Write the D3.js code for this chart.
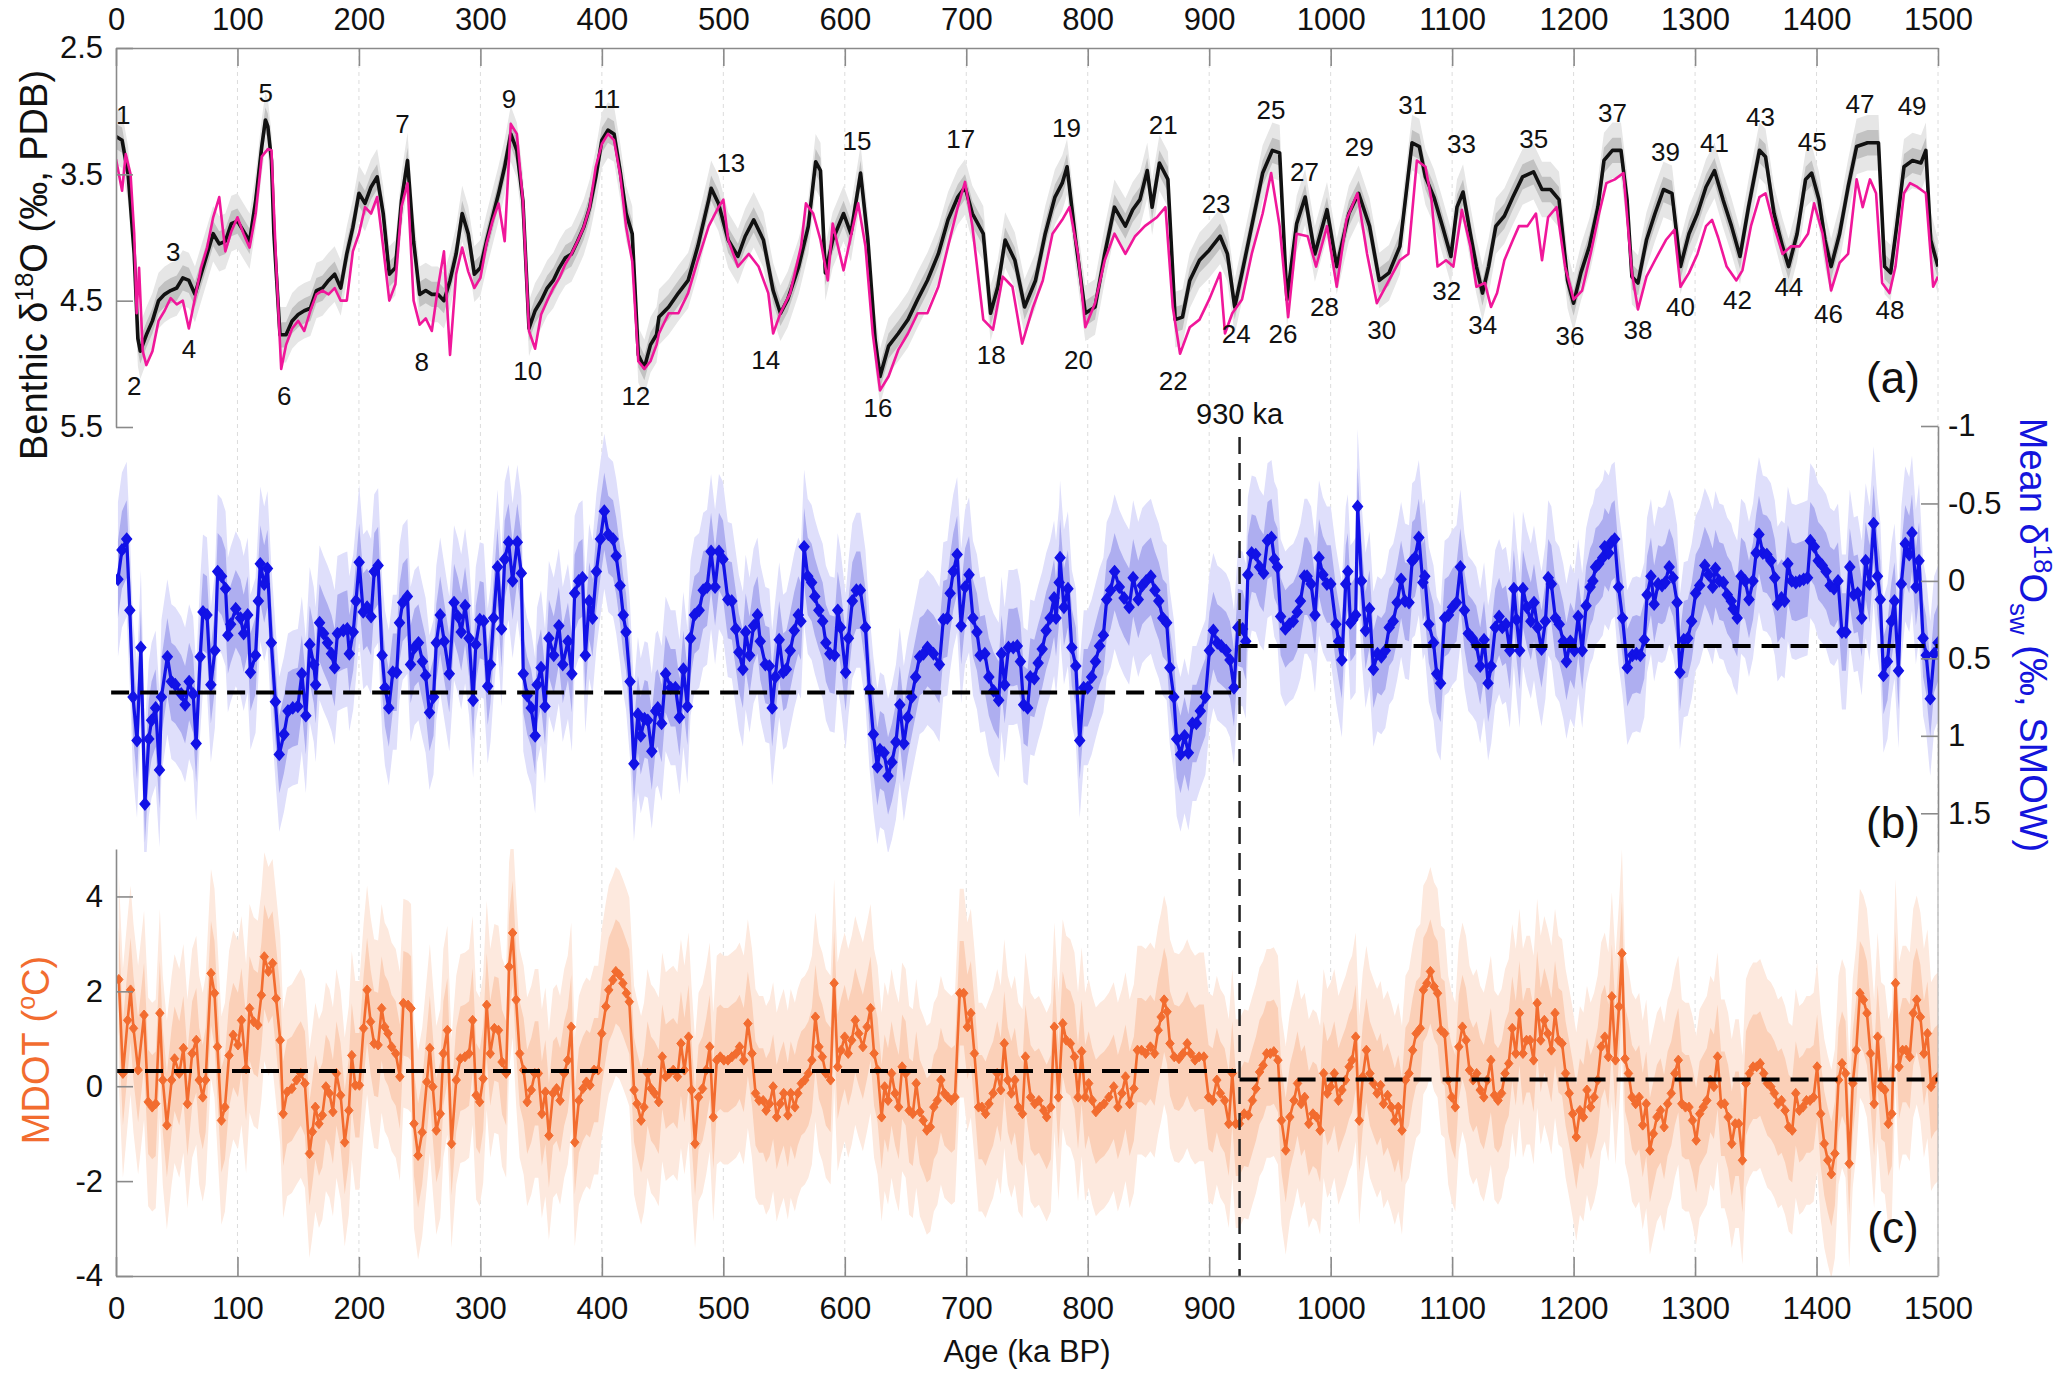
<!DOCTYPE html>
<html><head><meta charset="utf-8">
<script src="https://cdn.jsdelivr.net/npm/d3@7"></script>
<style>
body{margin:0;background:#fff}
svg{display:block}
text{font-family:"Liberation Sans",Arial,Helvetica,sans-serif}
</style>
</head><body>
<svg id="chart" width="2067" height="1379"></svg>
<script>
// ---------- DATA ----------
const ageTicks = [0,100,200,300,400,500,600,700,800,900,1000,1100,1200,1300,1400,1500];
const benthicTicks = [2.5,3.5,4.5,5.5];
const swTicks = [-1,-0.5,0,0.5,1,1.5];
const mdotTicks = [-4,-2,0,2,4];

// Panel (a): benthic δ18O stack (black) [age ka, ‰]
const benthicStack = [[0,3.2],[5,3.23],[10,3.5],[15,4.13],[18,4.8],[20,4.9],[25,4.77],[30,4.66],[35,4.5],[40,4.45],[45,4.42],[50,4.4],[55,4.32],[60,4.34],[65,4.45],[70,4.29],[75,4.13],[80,3.97],[85,4.05],[90,4.03],[95,3.89],[100,3.87],[105,3.95],[110,4.03],[115,3.71],[120,3.28],[123,3.07],[125,3.12],[128,3.39],[130,3.97],[135,4.77],[140,4.77],[145,4.66],[150,4.61],[155,4.58],[160,4.56],[165,4.42],[170,4.4],[175,4.34],[180,4.29],[185,4.4],[190,4.13],[195,3.92],[200,3.65],[205,3.73],[210,3.6],[215,3.52],[220,3.81],[225,4.29],[230,4.24],[235,3.71],[240,3.39],[245,4.03],[250,4.45],[255,4.42],[260,4.45],[265,4.45],[270,4.5],[275,4.34],[280,4.13],[285,3.81],[290,3.97],[295,4.29],[300,4.24],[305,4.03],[310,3.84],[315,3.65],[320,3.44],[325,3.18],[330,3.31],[335,3.71],[340,4.72],[345,4.58],[350,4.5],[355,4.4],[360,4.34],[365,4.24],[370,4.16],[375,4.13],[380,4.03],[385,3.92],[390,3.76],[395,3.52],[400,3.23],[405,3.15],[410,3.18],[415,3.47],[420,3.81],[425,3.97],[430,4.93],[435,5.03],[440,4.85],[445,4.77],
[447,4.63],[455,4.55],[463,4.44],[471,4.34],[479,4.07],[488,3.7],[490,3.61],[496,3.73],[504,4.02],[512,4.15],[518,3.99],[525,3.86],[533,4.02],[541,4.42],[547,4.6],[553,4.49],[562,4.23],[570,3.91],[576,3.4],[580,3.47],[584,4.28],[590,4.02],[599,3.81],[605,3.97],[613,3.49],[619,4.02],[625,4.81],[629,5.1],[636,4.86],[644,4.76],[652,4.65],[660,4.49],[668,4.34],[677,4.13],[685,3.86],[693,3.68],[699,3.6],[705,3.81],[714,3.97],[720,4.6],[726,4.39],[732,4.02],[740,4.18],[748,4.55],[757,4.34],[765,3.97],[773,3.68],[779,3.57],[783,3.44],[790,4.02],[798,4.6],[806,4.55],[814,4.13],[822,3.76],[831,3.91],[837,3.78],[843,3.7],[849,3.47],[853,3.76],[859,3.41],[866,3.54],[872,4.65],[878,4.63],[884,4.34],[892,4.18],[900,4.1],[909,3.99],[915,4.13],[921,4.55],[927,4.28],[935,3.91],[944,3.49],[952,3.31],[958,3.33],[964,4.49],[972,3.89],[979,3.68],[987,4.13],[997,3.78],[1005,4.23],[1015,3.81],[1023,3.65],[1032,3.91],[1040,4.34],[1048,4.28],
[1057,4.07],[1067,3.25],[1073,3.28],[1078,3.52],[1085,3.68],[1092,3.91],[1099,4.15],[1104,3.76],[1109,3.64],[1115,3.97],[1120,4.23],[1125,4.44],[1130,4.23],[1136,3.91],[1143,3.83],[1150,3.68],[1158,3.52],[1167,3.48],[1174,3.62],[1181,3.62],[1188,3.7],[1195,4.34],[1200,4.52],[1206,4.28],[1213,4.07],[1220,3.76],[1225,3.39],[1232,3.31],[1239,3.31],[1244,3.7],[1248,4.31],[1253,4.36],[1260,4.02],[1267,3.81],[1274,3.62],[1281,3.65],[1288,4.23],[1295,3.97],[1302,3.81],[1309,3.6],[1316,3.47],[1323,3.7],[1330,3.91],[1337,4.15],[1344,3.76],[1353,3.31],[1358,3.36],[1365,3.81],[1372,4.07],[1377,4.23],[1384,3.97],[1391,3.54],[1396,3.49],[1402,3.7],[1407,4.02],[1412,4.23],[1419,3.97],[1426,3.6],[1433,3.28],[1442,3.25],[1451,3.25],[1456,4.23],[1461,4.28],[1466,3.91],[1472,3.44],[1479,3.39],[1486,3.41],[1490,3.31],[1494,4.02],[1500,4.23]];

// Panel (a): second benthic record (magenta)
const benthicRecord = [[0,3.38],[5,3.63],[8,3.34],[12,3.5],[15,3.97],[17,4.6],[19,4.24],[22,4.9],[25,5.01],[30,4.9],[35,4.66],[40,4.58],[45,4.48],[50,4.53],[55,4.5],[60,4.72],[65,4.48],[70,4.24],[75,4.08],[80,3.84],[85,3.68],[90,4.11],[95,3.95],[100,3.84],[105,3.97],[110,4.08],[115,3.81],[120,3.36],[125,3.3],[128,3.31],[132,4.24],[136,5.04],[140,4.85],[145,4.72],[150,4.66],[155,4.74],[160,4.58],[165,4.45],[170,4.42],[175,4.45],[180,4.4],[185,4.5],[190,4.5],[195,4.11],[200,3.97],[205,3.76],[210,3.81],[215,3.68],[220,4.08],[225,4.5],[230,4.37],[235,3.76],[240,3.57],[245,4.5],[250,4.69],[255,4.64],[260,4.74],[265,4.4],[270,4.11],[275,4.93],[280,4.29],[285,4.08],[290,4.27],[295,4.4],[300,4.32],[305,4.05],[310,3.87],[315,3.73],[320,4.03],[325,3.1],[330,3.18],[335,3.71],[340,4.74],[345,4.88],[350,4.61],[355,4.5],[360,4.4],[365,4.32],[370,4.21],[375,4.13],[380,4.03],[385,3.92],[390,3.76],[395,3.44],[400,3.26],[405,3.18],[410,3.23],[415,3.5],[420,3.92],[425,4.19],[430,4.98],[435,5.04],[440,4.98],[445,4.85],
[447,4.76],[455,4.6],[463,4.6],[471,4.44],[479,4.18],[488,3.91],[496,3.76],[500,3.7],[504,4.02],[512,4.23],[521,4.13],[529,4.23],[537,4.44],[541,4.76],[547,4.6],[555,4.44],[564,4.07],[568,3.73],[574,3.81],[580,4.02],[586,4.34],[590,3.89],[599,4.26],[605,3.99],[611,3.73],[617,4.07],[623,4.76],[629,5.21],[636,5.1],[644,4.89],[652,4.76],[660,4.6],[668,4.6],[677,4.39],[685,4.07],[693,3.76],[699,3.56],[705,3.91],[714,4.65],[722,4.73],[730,4.31],[738,4.39],[746,4.84],[755,4.55],[763,4.34],[771,3.97],[779,3.86],[785,3.76],[792,4.13],[798,4.71],[806,4.52],[814,4.18],[822,3.97],[831,4.13],[839,3.99],[847,3.91],[857,3.84],[864,3.76],[870,4.55],[876,4.92],[884,4.71],[892,4.65],[900,4.49],[909,4.28],[913,4.76],[919,4.6],[927,4.49],[935,4.13],[944,3.81],[951,3.49],[958,3.91],[965,4.63],[972,3.97],[981,3.99],[988,4.23],[997,3.91],[1005,4.39],[1013,3.86],[1022,3.65],[1030,4.13],[1038,4.52],[1048,4.34],
[1057,4.18],[1064,4.13],[1071,3.39],[1078,3.44],[1083,3.7],[1088,4.23],[1095,4.18],[1101,4.23],[1108,3.78],[1115,4.07],[1120,4.39],[1127,4.36],[1132,4.55],[1137,4.44],[1143,4.18],[1150,4.02],[1155,3.91],[1162,3.91],[1169,3.81],[1174,4.18],[1179,3.84],[1186,3.76],[1193,4.23],[1200,4.49],[1207,4.42],[1214,4.13],[1221,3.81],[1227,3.57],[1234,3.54],[1241,3.49],[1248,4.28],[1253,4.57],[1260,4.31],[1267,4.18],[1276,4.02],[1283,3.94],[1288,4.39],[1295,4.28],[1302,4.13],[1309,3.91],[1314,3.86],[1319,4.0],[1326,4.23],[1334,4.34],[1339,4.26],[1346,3.91],[1353,3.68],[1358,3.65],[1365,3.91],[1372,4.13],[1379,4.07],[1386,4.07],[1393,3.97],[1398,3.73],[1405,3.97],[1412,4.42],[1419,4.2],[1426,4.13],[1433,3.54],[1438,3.76],[1444,3.54],[1449,3.65],[1454,4.36],[1460,4.44],[1465,4.23],[1472,3.65],[1477,3.57],[1483,3.6],[1490,3.65],[1496,4.39],[1500,4.31]];

// MIS labels [number, age ka, δ18O position]
const misLabels = [[1,5.9,3.03],[2,15.1,5.17],[3,47.1,4.11],[4,60,4.88],[5,123.3,2.85],[6,138.4,5.25],[7,235.9,3.1],[8,251.7,4.98],[9,323.5,2.9],[10,338.9,5.05],[11,404,2.9],[12,428,5.25],[13,506.2,3.41],[14,534.9,4.97],[15,610,3.23],[16,627.3,5.35],[17,695.5,3.22],[18,720.5,4.93],[19,782.5,3.13],[20,792.4,4.97],[21,862.2,3.11],[22,870.4,5.13],[23,905.7,3.73],[24,922.2,4.76],[25,950.9,2.99],[26,960.8,4.76],[27,978.4,3.48],[28,994.9,4.55],[29,1023.6,3.28],[30,1042.1,4.73],[31,1067.5,2.95],[32,1095.5,4.42],[33,1107.7,3.26],[34,1125.2,4.69],[35,1167.2,3.22],[36,1197,4.78],[37,1232,3.01],[38,1253,4.73],[39,1275.7,3.32],[40,1288,4.55],[41,1316,3.25],[42,1335,4.49],[43,1353.8,3.04],[44,1377.2,4.39],[45,1396.5,3.24],[46,1409.8,4.6],[47,1435.7,2.94],[48,1460.5,4.57],[49,1478.7,2.96]];

// Panel (b): mean seawater δ18O [age ka, ‰ SMOW]
const seawaterD18O = [[1.6,-0.01],[4.9,-0.2],[8.8,-0.27],[11.4,0.19],[14,0.75],[17.3,1.03],[20.5,0.43],[23.8,1.44],[27,1.02],[29.3,0.9],[32.6,0.82],[35.8,1.22],[37.4,0.75],[42.3,0.49],[45.6,0.65],[48.8,0.67],[53.7,0.73],[56.9,0.8],[60.2,0.65],[63.5,0.73],[66,1.05],[69.3,0.49],[71.6,0.2],[74.9,0.22],[78.1,0.67],[81.4,0.45],[83.7,-0.06],[86.9,-0.03],[90.2,0.05],[92.1,0.35],[94.4,0.28],[98.6,0.18],[102.5,0.24],[105.1,0.34],[108.4,0.22],[110.7,0.59],[114.9,0.48],[117.2,0.13],[118.8,-0.11],[122,0.02],[124.7,-0.08],[127.9,0.4],[131.2,0.78],[134.4,1.12],[138.3,0.99],[141.6,0.84],[145.5,0.82],[149.7,0.81],[153,0.6],[156.3,0.87],[159.5,0.41],[162.8,0.54],[164.4,0.67],[167.6,0.27],[170.9,0.34],[174.2,0.4],[177.4,0.47],[180,0.56],[182.3,0.34],[187.2,0.32],[190.4,0.31],[192.1,0.47],[195.3,0.33],[197.6,0.13],[200.2,-0.12],[203.5,0.2],[206.7,0.17],[210,0.23],[212.6,-0.06],[215.8,-0.1],[219.1,0.48],[221.4,0.69],[224.6,0.82],[227.9,0.59],[231.1,0.59],[233.4,0.27],[236,0.14],[239.9,0.1],[242.5,0.54],[245.8,0.43],[249,0.4],[252.3,0.52],[254.9,0.61],[258.1,0.85],[261.4,0.75],[263.7,0.4],[266.9,0.22],[270.2,0.39],[274.4,0.6],[278.3,0.14],[281.6,0.23],[284.2,0.33],[287.4,0.16],[290.7,0.37],[294,0.77],[296.2,0.41],[299.5,0.25],[302.7,0.26],[306,0.68],[308.3,0.54],[310.9,0.24],[314.1,-0.09],[317.4,0.31],[320,-0.14],[323.2,-0.25],[326.5,0],[330.4,-0.25],[333.7,-0.05],[335.3,0.6],[338.5,0.74],[341.8,0.82],[345.1,1.0],[346.7,0.67],[349.9,0.56],[353.2,0.81],[356.4,0.37],[360.4,0.48],[364.6,0.29],[367.8,0.54],[372.1,0.39],[375.3,0.6],[377.6,0.08],[380.9,0],[384.1,-0.02],[386.4,0.48],[389.6,0.13],[392.3,0.24],[395.5,-0.06],[398.8,-0.27],[402,-0.45],[405.3,-0.3],[409.2,-0.27],[411.8,-0.16],[415,0.03],[417.6,0.22],[419.9,0.33],[423.2,0.65],[426.4,1.18],[429.7,0.86],[432,1.0],[435.2,0.89],[437.8,0.9],[441.1,1.1],[444.3,0.84],[446,0.82],[449.2,0.92],[452.5,0.6],[456.7,0.69],[460.6,0.69],[463.9,0.88],[467.1,0.57],[470.4,0.81],[473,0.37],[476.2,0.22],[480.1,0.19],[483.4,0.06],[486.6,0.04],[489.9,-0.19],[493.2,0.04],[496.4,-0.19],[499.7,-0.14],
[503.7,0.12],[507,0.13],[510.2,0.31],[512.8,0.46],[516.1,0.57],[518.4,0.33],[521.6,0.48],[524.9,0.29],[528.1,0.22],[530.4,0.39],[534.6,0.54],[537.9,0.55],[540.2,0.82],[542.8,0.62],[546,0.38],[549.3,0.59],[551.9,0.57],[555.1,0.45],[558.4,0.32],[561.7,0.22],[563.9,0.26],[566.5,-0.22],[569.5,-0.03],[572.7,0.01],[575.3,0.1],[578.6,0.19],[581.8,0.26],[584.4,0.4],[587.7,0.47],[591.6,0.48],[594.2,0.19],[596.5,0.3],[600.7,0.59],[603,0.37],[606.2,0.13],[609.5,0.06],[612.8,0.06],[617,0.3],[620.2,0.7],[623.5,0.99],[626.8,1.2],[629,1.09],[632.3,1.11],[635.6,1.26],[638.8,1.17],[642.1,1.04],[645.3,0.8],[648.6,1.05],[651.8,0.88],[655.1,0.75],[658.3,0.62],[661.6,0.49],[664.8,0.47],[668.1,0.43],[673,0.47],[677.9,0.54],[681.1,0.25],[684.4,0.24],[686.7,0.08],[689.3,-0.06],[692.5,-0.17],[695.8,0.29],[699,0.04],[702.3,-0.04],[705.5,0.24],[708.8,0.33],[711.4,0.48],[715.3,0.47],[718.6,0.62],[722.5,0.71],[726.7,0.77],[729,0.47],[731.6,0.67],[734.8,0.43],[738.7,0.43],[742,0.42],[744.6,0.52],[747.2,0.8],[750.5,0.82],[752.7,0.62],[756,0.63],[759.2,0.53],[762.5,0.44],[765.8,0.32],[769,0.24],[772.3,0.11],[773.9,0.24],[776.5,0.01],[777.2,-0.15],[780.4,0.17],[783.7,0.05],[786.9,0.43],[790.2,0.55],[793.4,1.03],[796.7,0.69],[799.9,0.69],[803.2,0.62],[806.4,0.52],[809.7,0.42],[812.9,0.35],[815.6,0.12],[818.8,0.06],[822.1,-0.06],[826,0.04],[829.9,0.11],[834.1,0.17],[837.4,-0.02],[841.6,0.12],[844.9,0.03],[848.1,0],[852,-0.03],[855.3,0.06],[858.5,0.13],[861.8,0.24],[865,0.27],[867.6,0.56],[870.9,0.75],[873.2,1.02],[876.4,1.12],[879.7,1.0],[882.9,1.11],[886.2,0.92],[889.4,0.92],[892.7,0.84],[896.9,0.75],[900.2,0.45],[903.4,0.32],[906.7,0.4],[909.9,0.42],[913.9,0.45],[917.1,0.51],[920.4,0.69],[923.6,0.3],[927.5,0.31],[930.1,0.39],[931.8,-0.04],[935,-0.18],[938.3,-0.17],[941.5,-0.09],[944.8,-0.05],[948,-0.26],[951.3,-0.28],[953.6,-0.14],[956.2,-0.09],[958.8,0.23],[962.7,0.31],[966,0.28],[969.2,0.26],[972.5,0.2],[975.1,0.13],[978.4,-0.03],[980.6,-0.03],[983.9,0.02],[987.1,0.22],[990.4,-0.15],[993.6,-0.04],[996.9,0.02],[1000.1,0.02],
[1004.3,0.28],[1006.6,0.39],[1009.2,0.51],[1012.4,0.02],[1014.1,-0.06],[1016.3,0.27],[1018.3,0.25],[1020.6,0.22],[1022.2,-0.48],[1025.4,0.0],[1028.7,0.32],[1032,0.18],[1035.2,0.57],[1038.5,0.47],[1041.7,0.49],[1045,0.45],[1048.2,0.3],[1051.5,0.26],[1054.7,0.14],[1058,-0.01],[1061.2,0.13],[1064.5,0.14],[1067.1,-0.13],[1069.4,-0.15],[1072.6,-0.28],[1075.9,0.01],[1077.5,-0.03],[1080.8,0.28],[1084.7,0.4],[1087.3,0.6],[1090.5,0.66],[1093.8,0.24],[1097,0.22],[1100.3,0.17],[1103.6,0.14],[1106.8,-0.09],[1110.1,0.19],[1113.3,0.34],[1116.6,0.37],[1119.8,0.41],[1123.1,0.55],[1126.3,0.38],[1129.6,0.66],[1132.2,0.55],[1135.5,0.3],[1138.7,0.23],[1141.3,0.3],[1144.3,0.28],[1147.5,0.45],[1150.8,0.05],[1153,0.25],[1155.6,0.45],[1158.3,0.05],[1161.5,0.17],[1164.8,0.26],[1167.4,0.14],[1170.3,0.3],[1173.6,0.44],[1176.8,0.26],[1179.1,-0.02],[1181.7,0.02],[1185,0.24],[1188.2,0.28],[1191.5,0.39],[1194.1,0.52],[1197.3,0.39],[1200.6,0.45],[1203.8,0.23],[1207.1,0.45],[1210.3,0.16],[1213.6,0.04],[1215.9,0.0],[1218.1,-0.09],[1220.7,-0.11],[1224,-0.15],[1225.6,-0.22],[1228.9,-0.18],[1231.2,-0.25],[1233.8,-0.27],[1237,0.04],[1240.3,0.24],[1244.2,0.56],[1248.4,0.48],[1251.7,0.47],[1254.9,0.48],[1258.2,0.38],[1260.5,0.09],[1263.7,-0.03],[1266.3,0.15],[1269.6,0.02],[1272.8,0.03],[1275.4,0.01],[1278.7,-0.09],[1281.9,-0.02],[1285.2,0.14],[1287.5,0.59],[1290.7,0.38],[1294,0.37],[1297.2,0.26],[1300.5,0.08],[1303.8,0.03],[1308,-0.1],[1311.2,-0.04],[1314.5,0.04],[1316.8,-0.08],[1320,0.0],[1323.3,0.01],[1326.5,0.09],[1329.8,0.13],[1331.4,0.18],[1334.7,0.24],[1337.9,-0.03],[1341.2,0.0],[1344.4,0.12],[1347.7,0.0],[1350.3,-0.18],[1352.6,-0.3],[1355.8,-0.18],[1359.1,-0.17],[1362.4,-0.13],[1365.6,-0.02],[1367.9,0.15],[1371.1,0.11],[1373.7,0.13],[1376.4,-0.11],[1379.6,0.0],[1382.9,0.01],[1386.1,0.0],[1389.4,-0.01],[1392.6,-0.02],[1394.9,-0.26],[1398.2,-0.22],[1401.4,-0.13],[1404.7,-0.1],[1407.9,-0.06],[1411.2,0.03],[1414.4,0.05],[1417.7,0.0],[1420.9,0.33],[1424.2,0.33],[1427.4,-0.09],[1430.7,0.09],[1433.9,0.08],[1437.2,0.24],[1440.5,-0.13],[1443.7,0.02],[1447,-0.37],[1450.2,-0.03],[1452.5,0.12],[1455.1,0.61],[1458.4,0.52],[1461.6,0.26],[1464.2,0.13],[1467.5,0.58],[1469.8,0.02],[1473,-0.24],[1476.3,-0.17],[1478.6,-0.31],[1481.8,0.04],[1484.4,-0.13],[1487.7,0.37],[1490.3,0.48],[1493.6,0.76],[1496.8,0.47],[1500,0.4]];
const seawaterMeans = [[-4,925,0.72],[925,1500,0.42]];
const seawaterSigma = [0.25,0.5];

// Panel (c): MDOT [age ka, °C]
const mdot = [[2.3,2.25],[5.7,0.27],[9.6,1.39],[12,2.03],[14.4,1.22],[18.2,0.34],[23.1,1.5],[26.5,-0.33],[29.8,-0.44],[32.7,-0.37],[36.1,1.54],[38.5,0.13],[41.9,-0.82],[45.8,0.13],[48.2,0.58],[52.1,0.27],[55.5,0.8],[58.8,-0.37],[62.7,0.69],[66.1,0.97],[68.5,0.13],[71.4,-0.23],[73.8,0.13],[78.2,2.38],[81.1,1.96],[83.5,0.83],[86.8,-0.72],[89.7,-0.44],[93.1,0.65],[96.5,1.08],[100.4,0.87],[103.3,1.39],[107.1,0.37],[110,1.64],[113.4,1.36],[116.8,1.29],[119.7,1.92],[122.1,2.73],[125.5,2.42],[128.9,2.59],[131.8,1.85],[135.2,0.97],[137.6,-0.58],[140.9,-0.12],[144.8,-0.05],[148.7,0.13],[152.1,0.27],[155.5,0.06],[159.3,-1.42],[161.7,-0.96],[164.1,-0.44],[167.1,-0.79],[169.9,-0.61],[172.8,-0.01],[175.7,-0.15],[178.6,-0.54],[181.5,0.27],[184.9,-0.19],[188.3,-1.18],[191.7,-0.51],[194.1,0.65],[197,0.02],[200.4,0.02],[203.8,1.22],[206.7,2.03],[209.6,1.36],[212.5,0.9],[215.8,0.87],[218.7,1.64],[221.2,1.25],[224,1.11],[226.9,0.83],[230.3,0.69],[233.7,0.2],[236.6,1.75],[240.5,1.71],[242.9,1.64],[245.3,-0.79],[248.7,-1.46],[252.1,-0.97],[255.9,0.09],[258.4,0.8],[260.8,-0.01],[263.7,-0.93],[267,-0.58],[269.5,0.69],[272.8,1.18],[276.2,-1.21],[280.1,0.13],[283.5,0.58],[287.3,0.62],[290.7,0.69],[293.6,1.39],[296.5,-0.19],[299.4,-0.33],[302.3,0.16],[305.2,1.71],[308.1,0.69],[311.5,1.22],[314.9,1.18],[317.8,0.51],[321.2,0.27],[323.6,2.52],[326.5,3.23],[329.4,1.82],[332.3,0.69],[335.6,0.34],[338.5,-0.33],[341.9,-0.08],[344.8,0.27],[347.7,0.27],[350.6,-0.58],[353.5,-0.12],[356.4,-1.04],[359.8,-0.15],[362.7,-0.05],[365.6,-0.3],[369,0.27],[371.9,0.55],[374.8,1.25],[377.7,-1.18],[381.1,-0.3],[384.4,-0.05],[387.3,0.09],[390.2,0.02],[393.6,0.34],[397,0.34],[399.9,1.11],[403.3,1.68],[405.7,2.03],[409.1,2.24],[411.5,2.42],[414.4,2.35],[417.3,2.17],[420.2,1.96],[422.6,1.78],[426.5,-0.08],[428.9,-0.37],[432.3,-0.72],[434.7,-0.44],[437.6,0.27],[440.5,-0.05],[443.4,-0.15],[446.8,-0.33],[449.7,0.62],[452.6,0.2],[455.5,0.27],[458.8,0.34],[462.2,0.2],[465.1,0.9],[468,0.34],[471.4,1.04],[473.8,-0.08],[476.7,-1.21],[479.6,-0.23],[482.9,-0.05],[485.9,0.34],[488.8,0.83],[491.7,-0.65],[494.6,0.55],[497.5,0.62],[500.4,0.55],[503.8,0.55],[507.1,0.62],[510.5,0.69],[513.4,0.83],[516.8,0.55],[520.2,1.32],[523.6,0.69],[526.5,-0.15],[529.4,-0.3],[532.8,-0.3],[535.2,-0.51],[538.1,-0.37],[541,-0.01],[543.9,-0.65],[546.8,-0.37],[549.7,-0.15],[553.1,-0.61],[555.5,-0.15],[558.9,-0.44],[561.3,-0.15],[564.2,0.06],[567.1,0.13],[570,0.27],[572.9,0.55],[575.8,1.46],[578.7,0.83],[581.5,0.62],[584.4,0.27],[588.3,0.13],[591.2,2.17],[594.1,0.41],[597,0.76],[599.9,1.04],[602.8,0.69],[605.7,0.97],[608.6,1.39],[611.5,1.11],[614.9,0.83],[618.3,1.25],[621.2,1.64],[624.1,0.69],[627,0.34],[630.3,-0.65],[632.8,-0.01],[635.6,-0.3],[638.5,0.27],[641.4,-0.15],[644.4,-0.44],[647.2,0.41],[650.1,0.27],[653,-0.51],[656,-0.58],[658.8,0.06],[661.8,-0.54],[664.6,-0.72],[667.5,-0.93],[670.4,-0.86],[673.3,-0.44],[676.2,-0.3],[679.1,0.13],[682,-0.15],[684.9,-0.23],[687.8,-0.3],[690.7,-0.23],[694.6,1.96],[697.9,1.96],[700.9,1.25],[703.8,1.54],[706.7,0.69],[710.1,-0.44],[712.9,-0.44],[715.9,-0.58],[718.7,-0.37],[722.1,-0.15],[725.5,0.27],[728.4,-0.08],[731.3,0.9],[734.2,0.13],[737.1,-0.15],[740,0.13],[742.9,-0.44],[746.3,-0.58],[748.7,0.62],
[753,-0.23],[756.4,-0.37],[759.8,-0.3],[763.7,-0.51],[766.2,-0.65],[769.6,-0.44],[772.5,1.25],[775.9,-0.23],[779.4,1.32],[782.3,0.97],[785.7,0.9],[789.1,0.62],[792,-0.23],[795,0.73],[797.9,-0.23],[800.8,0.06],[803.8,-0.3],[806.7,-0.54],[810.1,-0.44],[813.5,-0.37],[817.4,-0.23],[821.4,-0.01],[824.8,-0.44],[828.2,-0.15],[831.1,0.2],[834.5,-0.37],[838,-0.05],[840.9,0.76],[844.3,0.76],[847.7,0.69],[851.6,0.83],[855,0.69],[858,1.18],[860.4,1.46],[862.9,1.82],[865.3,1.57],[867.7,0.9],[871.2,0.62],[875.1,0.58],[878.5,0.69],[881.9,0.9],[884.8,0.69],[888.3,0.55],[891.7,0.62],[895.6,0.62],[899.5,-0.23],[902.9,-0.3],[906.3,0.13],[909.2,-0.15],[912.7,-0.3],[916.1,-0.79],[919,0.27],[921.9,-0.79],[924.9,-0.79],[928.8,-0.58],[932.2,-0.61],[935.6,-0.3],[938.5,-0.05],[941.5,0.3],[944.4,0.44],[947.3,0.69],[950.3,0.69],[953.2,0.73],[956.6,0.55],[959.5,-0.72],[963,-1.35],[966.4,-0.65],[969.8,-0.3],[972.7,0.06],[975.7,-0.37],[978.6,-0.23],[982,-0.79],[985.4,-0.58],[988.4,-0.65],[991.3,-0.93],[994.2,0.27],[997.2,-0.15],[1000.1,-0.01],[1003,0.27],[1006.4,-0.3],[1009.3,-0.08],[1012.3,0.13],[1015.2,0.41],[1017.6,0.55],[1020.6,1.04],[1023.5,-0.72],[1026.4,0.2],[1029.4,0.76],[1032.3,0.27],[1035.2,0.06],[1038.2,-0.15],[1041.1,0.02],[1043.5,-0.37],[1046.9,-0.19],[1049.9,-0.44],[1052.8,-0.72],[1055.7,-0.44],[1058.7,-0.93],[1061.6,0.13],[1064.5,0.27],[1067.5,0.76],[1070.4,1.11],[1073.8,1.22],[1076.3,2.03],[1079.2,2.17],[1082.1,2.42],[1085.1,2.1],[1088,1.96],[1090.9,1.18],[1093.8,1.11],[1096.8,0.13],[1099.7,-0.23],[1102.6,-0.44],[1105.5,0.83],[1108.5,1.25],[1111.4,0.97],[1114.3,0.34],[1117.3,0.13],[1120.2,0.27],[1123.1,-0.08],[1126.1,-0.23],[1129,0.13],[1131.9,0.55],[1134.8,-0.19],[1137.8,-0.3],[1140.7,-0.15],[1143.6,0.27],[1146.6,0.48],[1149.5,1.22],[1152.4,0.69],[1155.4,1.54],[1158.3,0.69],[1161.2,0.97],[1164.1,0.97],[1167.1,0.55],[1170,1.75],[1172.9,0.97],[1175.9,1.39],[1178.8,1.11],[1181.7,0.76],[1184.7,1.54],[1187.6,0.97],[1190.5,0.9],[1193.4,0.27],[1196.4,-0.15],[1199.3,-0.58],[1202.2,-1.07],[1205.2,-0.51],[1208.1,-0.65],[1211,-0.08],[1214,-0.44],[1216.9,-0.23],[1219.8,0.13],[1222.7,0.83],[1225.7,1.04],[1228.6,0.62],[1231.5,1.89],[1234.5,0.55],[1237.4,1.68],[1239.8,2.8],[1242.3,0.58],[1245.2,0.27],[1248.1,-0.23],[1251.1,-0.37],[1254,-0.23],[1256.9,-0.82],[1259.8,-0.37],[1262.8,-1.35],[1265.7,-1.0],[1268.6,-0.65],[1271.6,-0.51],[1274.5,-0.86],[1277.4,-0.37],[1280.4,-0.15],[1283.3,0.27],[1286.2,0.55],[1289.1,-0.37],[1292.1,-0.44],[1295,-0.44],[1297.9,-0.72],[1300.9,-1.14],[1303.8,-0.58],[1306.7,-0.44],[1309.7,-0.3],[1312.6,0.13],[1315.5,-0.01],[1318.5,0.62],[1321.4,-0.37],[1324.3,-0.37],[1327.2,-0.65],[1330.2,-1.21],[1333.1,-0.79],[1336,-0.79],[1339,-1.56],[1341.9,0.06],[1344.8,0.27],[1347.8,0.41],[1350.7,0.41],[1353.6,0.48],[1356.5,0.27],[1359.5,0.06],[1362.4,-0.01],[1365.3,-0.15],[1368.3,-0.37],[1371.2,-0.3],[1374.1,-0.51],[1377.1,-0.86],[1380,-0.93],[1382.9,-0.15],[1385.8,-0.51],[1388.8,-0.44],[1391.7,-0.3],[1394.6,-0.3],[1397.6,-0.23],[1400.5,0.41],[1403.4,-0.58],[1406.4,-1.21],[1409.3,-1.56],[1412.2,-1.85],[1415.1,-1.42],[1418.1,0.13],[1421,0.48],[1423.9,0.27],[1426.9,-1.63],[1429.8,0.06],[1432.7,0.76],[1435.7,1.96],[1438.6,1.82],[1441.5,1.54],[1444.4,0.69],[1447.4,-0.37],[1450.3,1.04],[1453.2,-0.01],[1456.2,-0.08],[1459.1,-0.79],[1462,-0.58],[1465,2.17],[1467.9,0.41],[1470.8,0.76],[1473.7,0.76],[1476.7,0.62],[1479.6,1.54],[1482.5,1.82],[1485.5,1.46],[1488.4,0.69],[1491.3,1.11],[1494.3,-0.01],[1497.2,0.13],[1500,0.2]];
const mdotMeans = [[0,925,0.32],[925,1500,0.14]];
const mdotSigma = [1.1,2.2];
const benthicSigma = [0.1,0.22];
const breakAge = 925;

// ---------- DRAW ----------
const svg = d3.select("#chart");
const x = d3.scaleLinear().domain([0,1500]).range([116,1938]);
const yA = d3.scaleLinear().domain([2.5,5.5]).range([48,427]);
const yB = d3.scaleLinear().domain([-1,1.75]).range([426,852]);
const yC = d3.scaleLinear().domain([5,-4]).range([849,1276]);
const AX = "#8a8a8a";
const FS = 31;

const defs = svg.append("defs");
defs.append("clipPath").attr("id","clipB").append("rect").attr("x",116).attr("y",330).attr("width",1822).attr("height",522);
defs.append("clipPath").attr("id","clipC").append("rect").attr("x",116).attr("y",849).attr("width",1822).attr("height",427);
defs.append("clipPath").attr("id","clipA").append("rect").attr("x",116).attr("y",48).attr("width",1822).attr("height",400);

// gridlines
svg.append("g").selectAll("line").data(ageTicks.filter(d=>d>0)).join("line")
  .attr("x1",d=>x(d)).attr("x2",d=>x(d)).attr("y1",48).attr("y2",1276)
  .attr("stroke","#dcdcdc").attr("stroke-width",1).attr("stroke-dasharray","4,4");

function band(data, ys, s){
  return d3.area().x(d=>x(d[0])).y0(d=>ys(d[1]-s)).y1(d=>ys(d[1]+s))(data);
}
// (a)
const gA = svg.append("g").attr("clip-path","url(#clipA)");
gA.append("path").attr("d",band(benthicStack,yA,benthicSigma[1])).attr("fill","#e6e6e6");
gA.append("path").attr("d",band(benthicStack,yA,benthicSigma[0])).attr("fill","#c2c2c2");
const lineA = d3.line().x(d=>x(d[0])).y(d=>yA(d[1]));
gA.append("path").attr("d",lineA(benthicStack)).attr("fill","none").attr("stroke","#111").attr("stroke-width",3.6).attr("stroke-linejoin","round");
gA.append("path").attr("d",lineA(benthicRecord)).attr("fill","none").attr("stroke","#f0179a").attr("stroke-width",2.6).attr("stroke-linejoin","round");

svg.append("g").selectAll("text").data(misLabels).join("text")
  .attr("x",d=>x(d[1])).attr("y",d=>yA(d[2])).attr("dy","0.36em")
  .attr("text-anchor","middle").attr("font-size",26).attr("fill","#111").text(d=>d[0]);

// (b)
const gB = svg.append("g").attr("clip-path","url(#clipB)");
gB.append("path").attr("d",band(seawaterD18O,yB,seawaterSigma[1])).attr("fill","#dfdffb");
gB.append("path").attr("d",band(seawaterD18O,yB,seawaterSigma[0])).attr("fill","#aeaef0");
const lineB = d3.line().x(d=>x(d[0])).y(d=>yB(d[1]));
gB.append("path").attr("d",lineB(seawaterD18O)).attr("fill","none").attr("stroke","#1212e6").attr("stroke-width",3.2).attr("stroke-linejoin","round");
gB.append("g").selectAll("path").data(seawaterD18O).join("path")
  .attr("d","M0,-6L5,0L0,6L-5,0Z").attr("transform",d=>`translate(${x(d[0])},${yB(d[1])})`)
  .attr("fill","#1212e6").attr("stroke","#1212e6").attr("stroke-width",1.2);
svg.append("g").selectAll("line").data(seawaterMeans).join("line")
  .attr("x1",d=>x(d[0])).attr("x2",d=>x(d[1])).attr("y1",d=>yB(d[2])).attr("y2",d=>yB(d[2]))
  .attr("stroke","#000").attr("stroke-width",4).attr("stroke-dasharray","18,11");

// (c)
const gC = svg.append("g").attr("clip-path","url(#clipC)");
gC.append("path").attr("d",band(mdot,yC,mdotSigma[1])).attr("fill","#fde9de");
gC.append("path").attr("d",band(mdot,yC,mdotSigma[0])).attr("fill","#fbd0b8");
const lineC = d3.line().x(d=>x(d[0])).y(d=>yC(d[1]));
gC.append("path").attr("d",lineC(mdot)).attr("fill","none").attr("stroke","#f26c2f").attr("stroke-width",2.6).attr("stroke-linejoin","round");
gC.append("g").selectAll("path").data(mdot).join("path")
  .attr("d","M0,-5L4.2,0L0,5L-4.2,0Z").attr("transform",d=>`translate(${x(d[0])},${yC(d[1])})`)
  .attr("fill","#f26c2f").attr("stroke","#f26c2f").attr("stroke-width",1);
svg.append("g").selectAll("line").data(mdotMeans).join("line")
  .attr("x1",d=>x(d[0])).attr("x2",d=>x(d[1])).attr("y1",d=>yC(d[2])).attr("y2",d=>yC(d[2]))
  .attr("stroke","#000").attr("stroke-width",4).attr("stroke-dasharray","18,11");

// 930 ka line
svg.append("line").attr("x1",x(breakAge)).attr("x2",x(breakAge)).attr("y1",437).attr("y2",1276)
  .attr("stroke","#222").attr("stroke-width",2.5).attr("stroke-dasharray","17,9");
svg.append("text").attr("x",x(breakAge)).attr("y",424).attr("text-anchor","middle").attr("font-size",29).attr("fill","#111").text("930 ka");

// axes
function styleAxis(g){
  g.selectAll(".domain").attr("stroke",AX).attr("stroke-width",1.6);
  g.selectAll(".tick line").attr("stroke",AX).attr("stroke-width",1.6);
  g.selectAll(".tick text").attr("font-size",FS).attr("fill","#111").attr("font-family","Liberation Sans, Arial, sans-serif");
}
const fmt = d=>String(d);
svg.append("g").attr("transform","translate(0,48)")
  .call(d3.axisTop(x).tickValues(ageTicks).tickSizeInner(-18).tickSizeOuter(0).tickPadding(18).tickFormat(fmt)).call(styleAxis);
svg.append("g").attr("transform","translate(0,1276)")
  .call(d3.axisBottom(x).tickValues(ageTicks).tickSizeInner(-19).tickSizeOuter(0).tickPadding(21).tickFormat(fmt)).call(styleAxis);
svg.append("g").attr("transform","translate(116,0)")
  .call(d3.axisLeft(yA).tickValues(benthicTicks).tickSizeInner(-17).tickSizeOuter(0).tickPadding(13).tickFormat(d3.format(".1f"))).call(styleAxis);
svg.append("g").attr("transform","translate(1938,0)")
  .call(d3.axisRight(yB).tickValues(swTicks).tickSizeInner(-17).tickSizeOuter(0).tickPadding(10).tickFormat(fmt)).call(styleAxis);
svg.append("g").attr("transform","translate(116,0)")
  .call(d3.axisLeft(yC).tickValues(mdotTicks).tickSizeInner(-17).tickSizeOuter(0).tickPadding(13).tickFormat(fmt)).call(styleAxis);
svg.append("line").attr("x1",1938).attr("x2",1938).attr("y1",852).attr("y2",1276).attr("stroke","#b5b5b5").attr("stroke-width",1.2);

// axis titles
const tA = svg.append("text").attr("transform","translate(47,265) rotate(-90)").attr("text-anchor","middle").attr("font-size",38).attr("fill","#111");
tA.append("tspan").text("Benthic δ");
tA.append("tspan").attr("font-size",26).attr("dy",-14).text("18");
tA.append("tspan").attr("dy",14).text("O (‰, PDB)");

const tB = svg.append("text").attr("transform","translate(2020,635) rotate(90)").attr("text-anchor","middle").attr("font-size",38).attr("fill","#1414dc");
tB.append("tspan").text("Mean δ");
tB.append("tspan").attr("font-size",26).attr("dy",-14).text("18");
tB.append("tspan").attr("dy",14).text("O");
tB.append("tspan").attr("font-size",26).attr("dy",10).text("sw");
tB.append("tspan").attr("dy",-10).text("  (‰, SMOW)");

const tC = svg.append("text").attr("transform","translate(49,1050) rotate(-90)").attr("text-anchor","middle").attr("font-size",38).attr("fill","#f26c2f");
tC.append("tspan").text("MDOT (");
tC.append("tspan").attr("font-size",25).attr("dy",-14).text("o");
tC.append("tspan").attr("dy",14).text("C)");

svg.append("text").attr("x",1027).attr("y",1362).attr("text-anchor","middle").attr("font-size",FS).attr("fill","#111").text("Age (ka BP)");

// panel labels
[["(a)",378],["(b)",823],["(c)",1228]].forEach(([t,y])=>{
  svg.append("text").attr("x",1893).attr("y",y).attr("dy","0.35em").attr("text-anchor","middle").attr("font-size",44).attr("fill","#111").text(t);
});
</script>
</body></html>
